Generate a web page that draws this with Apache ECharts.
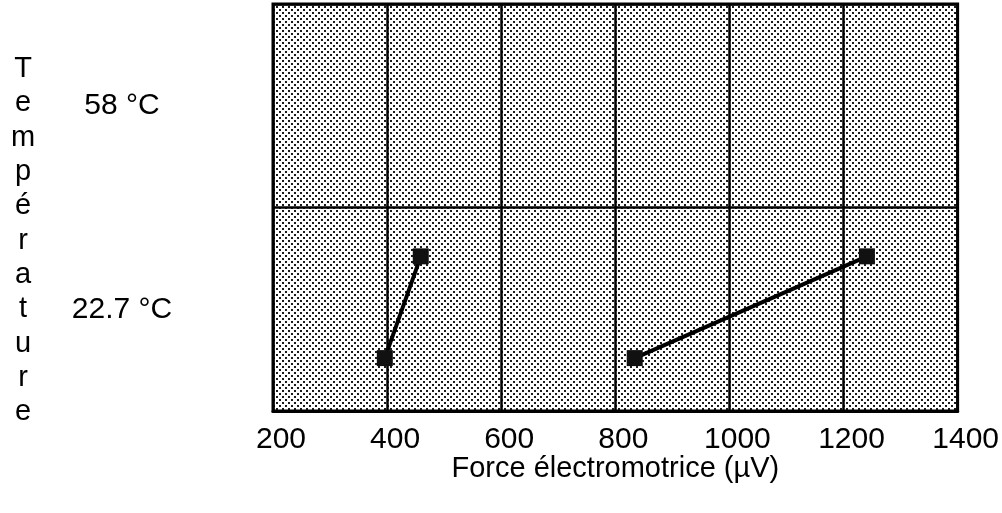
<!DOCTYPE html>
<html>
<head>
<meta charset="utf-8">
<script src="https://cdn.jsdelivr.net/npm/echarts@6/dist/echarts.min.js"></script>
<style>
  html, body { margin: 0; padding: 0; background: #fff; }
  #chart { width: 1002px; height: 513px; }
</style>
</head>
<body>
<div id="chart"></div>
<script>
  // temperature bands (bottom to top)
  var tempLabels = ['22.7 °C', '58 °C']
  var xTicks = [200, 400, 600, 800, 1000, 1200, 1400]
  // [emf µV, height inside the temperature band scale 0..2]
  var serieA = [[396, 0.26], [459, 0.76]]
  var serieB = [[834, 0.26], [1241, 0.76]]
  var yTitle = 'Température'
  var xTitle = 'Force électromotrice (µV)'

  // stippled grey fill like the scan
  var tile = document.createElement('canvas')
  tile.width = 6
  tile.height = 6
  var ctx = tile.getContext('2d')
  ctx.fillStyle = '#ffffff'
  ctx.fillRect(0, 0, 6, 6)
  ctx.fillStyle = '#1a1a1a'
  ctx.fillRect(0, 0, 2, 2)
  ctx.fillRect(3, 3, 2, 2)

  var font = '"Liberation Sans", Arial, Helvetica, sans-serif'
  var myChart = echarts.init(document.getElementById('chart'))
  var lineStyle = { color: '#000', width: 4 }
  var symbolStyle = { color: '#111' }

  myChart.setOption({
    animation: false,
    grid: {
      left: 273,
      top: 4,
      width: 687,
      height: 407,
      show: true,
      backgroundColor: { image: tile, repeat: 'repeat' },
      borderColor: '#000',
      borderWidth: 3
    },
    xAxis: {
      type: 'value',
      min: xTicks[0],
      max: xTicks[xTicks.length - 1],
      interval: 200,
      name: xTitle,
      nameLocation: 'middle',
      nameGap: 43,
      nameMoveOverlap: false,
      nameTextStyle: { color: '#000', fontSize: 29, fontFamily: font },
      axisLine: { show: true, lineStyle: { color: '#000', width: 3 } },
      axisTick: { show: false },
      axisLabel: {
        color: '#000',
        fontSize: 30,
        fontFamily: font,
        margin: 14,
        padding: [0, 0, 0, 16],
        formatter: function (v) { return String(v) }
      },
      splitLine: { show: true, lineStyle: { color: '#000', width: 2.5 } }
    },
    yAxis: [
      {
        type: 'category',
        data: tempLabels,
        boundaryGap: true,
        axisLine: { show: false },
        axisTick: { show: false },
        axisLabel: {
          color: '#000',
          fontSize: 30,
          fontFamily: font,
          align: 'center',
          margin: 151
        },
        splitLine: { show: true, lineStyle: { color: '#000', width: 2.5 } }
      },
      {
        type: 'value',
        min: 0,
        max: 2,
        show: false,
        splitLine: { show: false }
      }
    ],
    graphic: [
      {
        type: 'text',
        x: 23,
        y: 52,
        style: {
          text: yTitle.split('').join('\n'),
          fill: '#000',
          font: '29px ' + font,
          lineHeight: 34.3,
          align: 'center',
          verticalAlign: 'top'
        }
      }
    ],
    series: [
      {
        type: 'line',
        yAxisIndex: 1,
        data: serieA,
        symbol: 'rect',
        symbolSize: 16,
        itemStyle: symbolStyle,
        lineStyle: lineStyle
      },
      {
        type: 'line',
        yAxisIndex: 1,
        data: serieB,
        symbol: 'rect',
        symbolSize: 16,
        itemStyle: symbolStyle,
        lineStyle: lineStyle
      }
    ]
  })
</script>
</body>
</html>
